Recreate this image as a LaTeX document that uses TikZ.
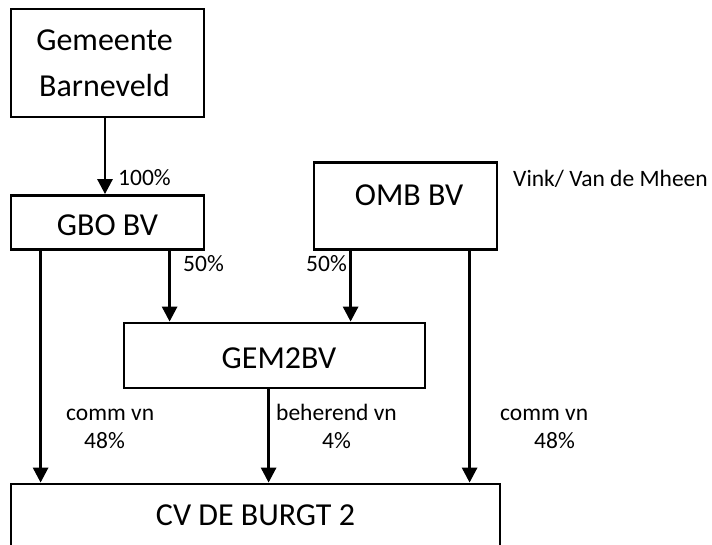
\documentclass[tikz,border=0pt]{standalone}
\usepackage{fontspec}
\setmainfont{Carlito}
\usetikzlibrary{arrows.meta}
\tikzset{
  box/.style={draw=black, line width=2.8pt, fill=white, inner sep=0pt},
  big/.style={font=\fontsize{32}{46}\selectfont},
  small/.style={font=\fontsize{23.5}{28}\selectfont, inner sep=0pt, anchor=base west},
  arr/.style={line width=2.8pt, -{Triangle[width=15pt,length=15pt]}}
}
\begin{document}
\begin{tikzpicture}[x=1pt,y=-1pt]
\clip (0,0) rectangle (712,544);
\fill[white] (0,0) rectangle (712,544);
% boxes
\node[box, big, align=center, minimum width=193pt, minimum height=108pt] (gem) at (107.5,63) {\hspace*{-6pt}Gemeente\\\hspace*{-6pt}Barneveld};
\node[box, big, minimum width=193pt, minimum height=54pt, text height=25pt, text depth=0pt] (gbo) at (107.5,222.5) {GBO BV};
\node[box, big, minimum width=183pt, minimum height=87pt, text height=20pt, text depth=22pt] (omb) at (405.5,206) {\hspace*{7pt}OMB BV};
\node[box, big, minimum width=301pt, minimum height=65pt, text height=25pt, text depth=0pt] (gem2) at (274.5,355.5) {\hspace*{9pt}GEM2BV};
\node[box, big, minimum width=489pt, minimum height=90pt, text height=20pt, text depth=28pt] (cv) at (255.5,529) {CV DE BURGT 2};
% labels
\node[small] (l100) at (118,185) {100\%};
\node[small] (l50a) at (183,271) {50\%};
\node[small] (l50b) at (306,271) {50\%};
\node[small] (vink) at (513,186) {Vink/ Van de Mheen};
\node[small] (cl1) at (66,420) {comm vn};
\node[small] (cl2) at (84,448) {48\%};
\node[small] (bh1) at (276,420) {beherend vn};
\node[small] (bh2) at (322,448) {4\%};
\node[small] (cr1) at (500,420) {comm vn};
\node[small] (cr2) at (534,448) {48\%};
% connectors
\draw[arr] ([xshift=-2.5pt]gem.south) -- ([xshift=-2.5pt]gbo.north);
\draw[arr] ([xshift=31pt]gbo.south west) -- ([xshift=31pt]cv.north west);
\draw[arr] ([xshift=160pt]gbo.south west) -- ([xshift=47pt]gem2.north west);
\draw[arr] ([xshift=38pt]omb.south west) -- ([xshift=228pt]gem2.north west);
\draw[arr] ([xshift=157pt]omb.south west) -- ([xshift=460pt]cv.north west);
\draw[arr] ([xshift=146pt]gem2.south west) -- ([xshift=259pt]cv.north west);
\end{tikzpicture}
\end{document}
